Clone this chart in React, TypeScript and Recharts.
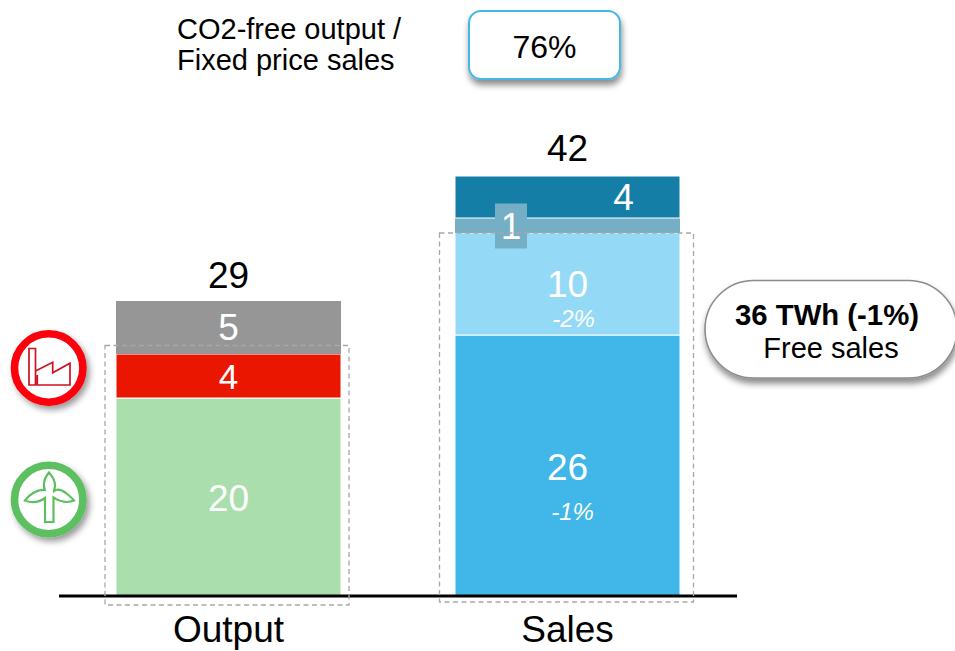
import { Bar, BarChart, Cell, LabelList, XAxis, YAxis } from 'recharts'

const FONT = '"Liberation Sans", Arial, sans-serif'

const categories = ['Output', 'Sales']
// bar heights, the printed labels are rounded
const baseValues = [19.8, 26.1]
const midValues = [4.4, 10.2]
const upperValues = [5.3, 1.5]
const topValues = [0, 4.2]
const totals = ['29', '42']

const baseLabels = ['20', '26']
const midLabels = ['4', '10']
const upperLabels = ['5', '1']
const topLabels = ['', '4']
const baseNotes = ['', '-1%']
const midNotes = ['', '-2%']

const baseColors = ['#aadfad', '#40b7e8']
const midColors = ['#ea1600', '#94daf6']
const upperColors = ['#969696', '#74afc6']
const topColors = ['#157ea6', '#157ea6']

const data = categories.map((name, i) => ({
  name,
  base: baseValues[i],
  mid: midValues[i],
  upper: upperValues[i],
  top: topValues[i],
}))

function centerText(x: number, y: number, text: string, size = 37) {
  return (
    <text x={x} y={y} textAnchor="middle" dominantBaseline="central" fontFamily={FONT} fontSize={size} fill="#fff">
      {text}
    </text>
  )
}

function noteText(x: number, y: number, text: string) {
  return (
    <text x={x} y={y} textAnchor="middle" dominantBaseline="central" fontFamily={FONT} fontSize={24} fontStyle="italic" fill="#fff">
      {text}
    </text>
  )
}

function baseLabel(p: any) {
  const cx = p.x + p.width / 2
  const cy = p.y + p.height / 2
  return (
    <g key={p.index}>
      {centerText(cx, cy + 1.5, baseLabels[p.index])}
      {baseNotes[p.index] && noteText(cx + 5, cy + 46, baseNotes[p.index])}
    </g>
  )
}

function midLabel(p: any) {
  const cx = p.x + p.width / 2
  const cy = p.y + p.height / 2
  return (
    <g key={p.index}>
      {centerText(cx, cy, midLabels[p.index], p.index === 0 ? 35 : 37)}
      {midNotes[p.index] && noteText(cx + 6, cy + 34, midNotes[p.index])}
    </g>
  )
}

function totalText(x: number, y: number, text: string) {
  return (
    <text x={x} y={y} textAnchor="middle" dominantBaseline="central" fontFamily={FONT} fontSize={37} fill="#000">
      {text}
    </text>
  )
}

function upperLabel(p: any) {
  if (p.index !== 0) return null
  const cx = p.x + p.width / 2
  return (
    <g key={p.index}>
      {centerText(cx, p.y + p.height / 2, upperLabels[0])}
      {totalText(cx, p.y - 26, totals[0])}
    </g>
  )
}

function topLabel(p: any) {
  if (!p.value) return null
  const cx = p.x + p.width / 2
  const h = (p.height / topValues[1]) * upperValues[1]
  return (
    <g key={p.index}>
      {centerText(cx + 56, p.y + p.height / 2, topLabels[1])}
      {totalText(cx, p.y - 28, totals[1])}
      <rect x={cx - 72.5} y={p.y + p.height + h / 2 - 22} width={32} height={45} fill={upperColors[1]} />
      {centerText(cx - 56.5, p.y + p.height + h / 2 + 1, upperLabels[1])}
    </g>
  )
}

function FactoryIcon() {
  return (
    <g>
      <circle cx={48.7} cy={368} r={34.2} fill="#fff" stroke="#fb0007" strokeWidth={7.6} filter="url(#iconShadow)" />
      <path
        d="M29 385V348.5H35.5V385ZM36 370.7L52.7 362.3V372.7L70 363.3V385H37.3V375"
        fill="none"
        stroke="#d01020"
        strokeWidth={1.7}
      />
    </g>
  )
}

function TurbineIcon() {
  return (
    <g>
      <circle cx={48.7} cy={499.5} r={34.2} fill="#fff" stroke="#5cbf60" strokeWidth={7.6} filter="url(#iconShadow)" />
      <path
        d="M49 472.5C52 476 55.5 480 55 486C54.7 489 54 490 54 491C58 488 62 490 66 493C69 495.5 72 498 74 500.5C68 503 60 502 53.5 497.5V522H45V498C38 503 31 503 25 500.5C29 495 37 489 44.8 490C43.5 486 42.5 480 49 472.5Z"
        fill="none"
        stroke="#5cbf60"
        strokeWidth={2.2}
      />
    </g>
  )
}

function Overlay() {
  return (
    <svg width={955} height={651} style={{ position: 'absolute', left: 0, top: 0 }}>
      <defs>
        <filter id="iconShadow" x="-30%" y="-30%" width="170%" height="170%">
          <feDropShadow dx={3} dy={4} stdDeviation={3} floodColor="#000" floodOpacity={0.4} />
        </filter>
        <filter id="boxShadow" x="-20%" y="-30%" width="140%" height="170%">
          <feDropShadow dx={1} dy={5} stdDeviation={3} floodColor="#000" floodOpacity={0.45} />
        </filter>
      </defs>

      <rect x={105} y={345.5} width={244} height={259.5} fill="none" stroke="#a8a8a8" strokeWidth={1.3} strokeDasharray="5 3.5" />
      <rect x={439.5} y={233} width={254} height={369} fill="none" stroke="#a8a8a8" strokeWidth={1.3} strokeDasharray="5 3.5" />

      <FactoryIcon />
      <TurbineIcon />

      <text x={177} y={39} fontFamily={FONT} fontSize={29} fill="#000">CO2-free output /</text>
      <text x={177} y={70} fontFamily={FONT} fontSize={29} fill="#000">Fixed price sales</text>

      <rect x={469} y={11} width={151} height={68} rx={12} fill="#fff" stroke="#45b8e6" strokeWidth={2} filter="url(#boxShadow)" />
      <text x={544.5} y={47} textAnchor="middle" dominantBaseline="central" fontFamily={FONT} fontSize={32} fill="#000">76%</text>

      <rect x={705} y={280.5} width={252} height={97.5} rx={48.7} fill="#fff" stroke="#8c8c8c" strokeWidth={1.6} filter="url(#boxShadow)" />
      <text x={827} y={314} textAnchor="middle" dominantBaseline="central" fontFamily={FONT} fontSize={29.3} fontWeight="bold" fill="#000">36 TWh (-1%)</text>
      <text x={831} y={348} textAnchor="middle" dominantBaseline="central" fontFamily={FONT} fontSize={29} fill="#000">Free sales</text>
    </svg>
  )
}

export default function App() {
  return (
    <div style={{ position: 'absolute', left: 0, top: 0, width: 955, height: 651, overflow: 'hidden', background: '#fff' }}>
      <BarChart
        width={955}
        height={651}
        data={data}
        barSize={225}
        margin={{ top: 0, right: 218, left: 59, bottom: 0 }}
      >
        <XAxis
          dataKey="name"
          tickLine={false}
          axisLine={{ stroke: '#000', strokeWidth: 3 }}
          tick={{ fontFamily: FONT, fontSize: 37, fill: '#000' }}
          tickMargin={14}
          height={55}
        />
        <YAxis hide domain={[0, 59.6]} />
        <Bar dataKey="base" stackId="a" stroke="#fff" strokeWidth={1} isAnimationActive={false}>
          {baseColors.map((c) => <Cell key={c} fill={c} />)}
          <LabelList dataKey="base" content={baseLabel} />
        </Bar>
        <Bar dataKey="mid" stackId="a" stroke="#fff" strokeWidth={1} isAnimationActive={false}>
          {midColors.map((c) => <Cell key={c} fill={c} />)}
          <LabelList dataKey="mid" content={midLabel} />
        </Bar>
        <Bar dataKey="upper" stackId="a" isAnimationActive={false}>
          {upperColors.map((c) => <Cell key={c} fill={c} />)}
          <LabelList dataKey="upper" content={upperLabel} />
        </Bar>
        <Bar dataKey="top" stackId="a" stroke="#fff" strokeWidth={1} isAnimationActive={false}>
          {topColors.map((c, i) => <Cell key={i} fill={c} />)}
          <LabelList dataKey="top" content={topLabel} />
        </Bar>
      </BarChart>
      <Overlay />
    </div>
  )
}
